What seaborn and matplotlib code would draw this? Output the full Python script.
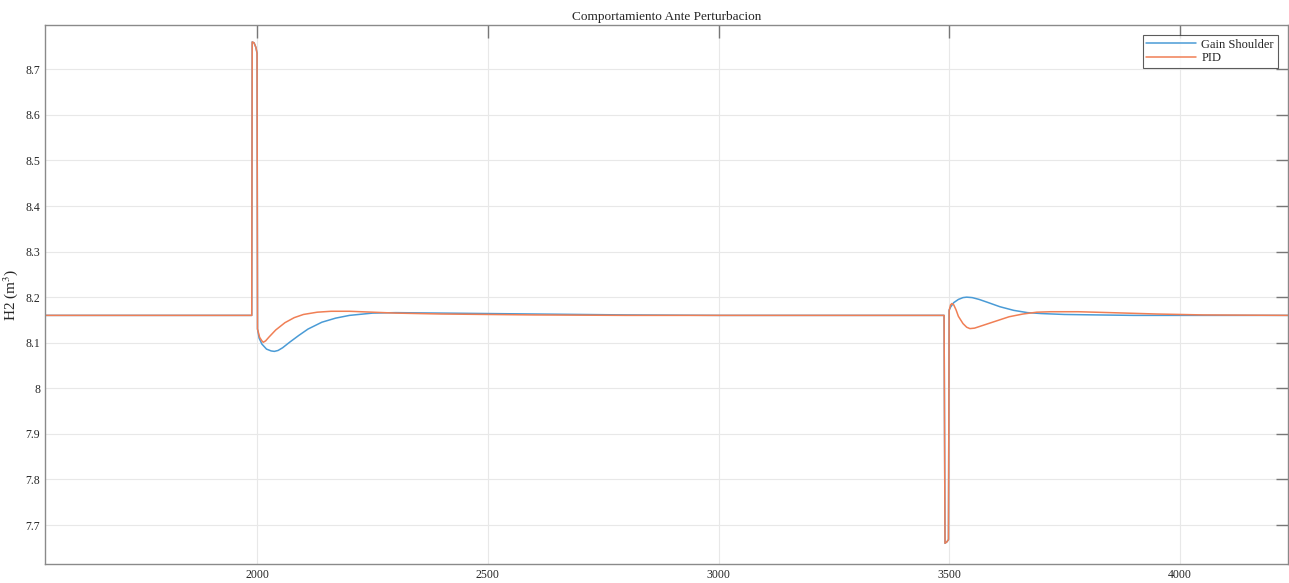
# Respuesta ante perturbacion: Gain Shoulder vs PID
import pandas as pd
import matplotlib
matplotlib.use('Agg')
import matplotlib.pyplot as plt
import seaborn as sns
from matplotlib.ticker import FormatStrFormatter

# Datos
gs_t = [1540, 1988, 1989, 1993, 1997, 1999.5, 2000.5, 2004, 2010, 2020, 2030, 2037, 2045,
        2055, 2070, 2090, 2110, 2140, 2170, 2200, 2250, 2300, 2400, 2600, 2800, 3000,
        3489, 3491, 3495, 3498.5, 3500, 3503, 3510, 3520, 3530, 3538, 3550, 3565, 3585,
        3610, 3640, 3670, 3700, 3750, 3820, 3900, 4000, 4235]
gs_v = [8.16, 8.16, 8.76, 8.758, 8.748, 8.735, 8.13, 8.11, 8.097, 8.086, 8.082, 8.081, 8.083,
        8.089, 8.101, 8.116, 8.13, 8.145, 8.154, 8.16, 8.165, 8.166, 8.165, 8.163, 8.161, 8.16,
        8.16, 7.66, 7.663, 7.668, 8.172, 8.178, 8.188, 8.195, 8.199, 8.2, 8.199, 8.195, 8.188,
        8.179, 8.171, 8.166, 8.164, 8.162, 8.161, 8.16, 8.16, 8.16]

pid_t = [1540, 1988, 1989, 1993, 1997, 1999.5, 2000.5, 2005, 2010, 2013, 2018, 2025, 2040,
         2060, 2080, 2100, 2130, 2160, 2200, 2250, 2300, 2400, 2600, 2800, 3000,
         3489, 3491, 3495, 3498.5, 3500, 3503, 3506, 3510, 3515, 3520, 3530, 3538, 3545,
         3555, 3570, 3600, 3630, 3660, 3690, 3720, 3780, 3850, 3950, 4050, 4235]
pid_v = [8.16, 8.16, 8.76, 8.758, 8.748, 8.735, 8.13, 8.112, 8.104, 8.101, 8.104, 8.112, 8.128,
         8.144, 8.155, 8.162, 8.167, 8.169, 8.169, 8.167, 8.165, 8.163, 8.161, 8.16, 8.16,
         8.16, 7.66, 7.663, 7.668, 8.17, 8.183, 8.186, 8.183, 8.172, 8.158, 8.142, 8.134, 8.131,
         8.132, 8.137, 8.147, 8.157, 8.163, 8.167, 8.168, 8.168, 8.166, 8.163, 8.161, 8.16]

gs = pd.DataFrame({'t': gs_t, 'h2': gs_v})
pid = pd.DataFrame({'t': pid_t, 'h2': pid_v})

sns.set_theme(style='white')
plt.rcParams['font.family'] = ['Liberation Serif', 'DejaVu Serif']
plt.rcParams['mathtext.fontset'] = 'stix'

fig = plt.figure(figsize=(12.89, 5.83), dpi=100)
ax = fig.add_axes([0.035, 0.033, 0.964, 0.924])

sns.lineplot(data=gs, x='t', y='h2', ax=ax, color='#4a9bd6', lw=1.1,
             estimator=None, sort=False, label='Gain Shoulder')
sns.lineplot(data=pid, x='t', y='h2', ax=ax, color='#f07f55', lw=1.1,
             estimator=None, sort=False, label='PID')

ax.set_xlim(1540, 4234)
ax.set_ylim(7.615, 8.797)
ax.set_xticks([2000, 2500, 3000, 3500, 4000])
ax.set_yticks([7.7, 7.8, 7.9, 8.0, 8.1, 8.2, 8.3, 8.4, 8.5, 8.6, 8.7])
ax.yaxis.set_major_formatter(FormatStrFormatter('%g'))
ax.grid(True, color='#e8e8e8', lw=0.8)
ax.tick_params(direction='in', length=9, width=1, colors='#777777',
               labelcolor='#262626', labelsize=8.5, top=True, right=True)
for s in ax.spines.values():
    s.set_color('#8a8a8a')
    s.set_linewidth(1.0)

ax.set_xlabel('')
ax.set_ylabel('H2 (m$^3$)', fontsize=11, color='#262626', labelpad=4)
ax.set_title('Comportamiento Ante Perturbacion', fontsize=9.5, color='#262626', pad=4)

leg = ax.legend(loc='upper right', fontsize=9, frameon=True, fancybox=False,
                edgecolor='#333333', borderaxespad=0.8, handlelength=4.0,
                borderpad=0.3, labelspacing=0.1, handletextpad=0.4)
leg.get_frame().set_linewidth(0.8)

fig.savefig('out.png', dpi=100)
